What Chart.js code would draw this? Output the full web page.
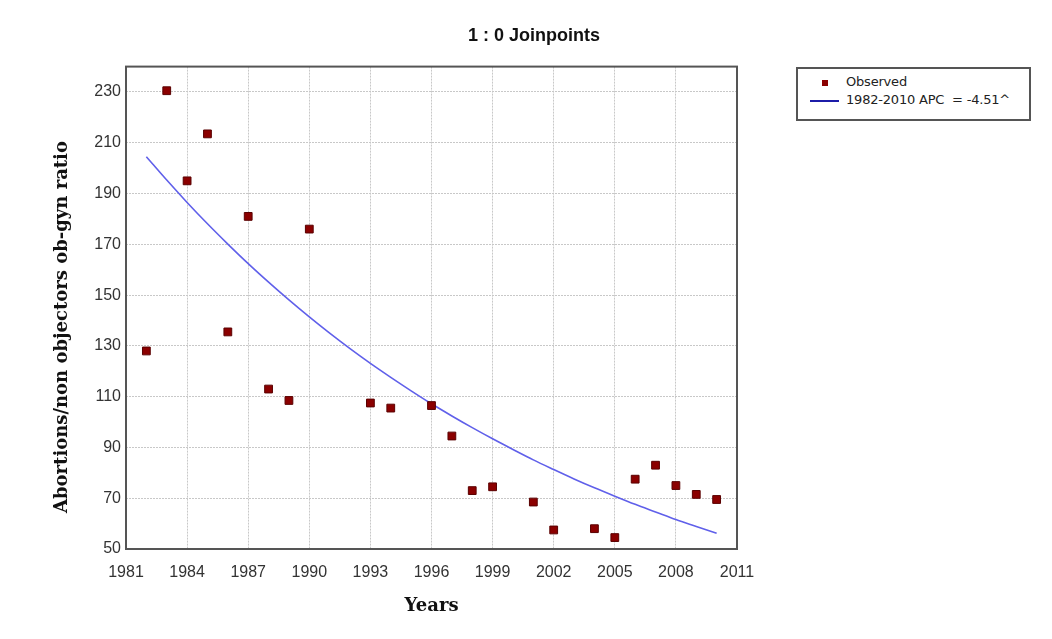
<!DOCTYPE html>
<html>
<head>
<meta charset="utf-8">
<script src="https://cdn.jsdelivr.net/npm/chart.js@4"></script>
<style>
  body { margin: 0; background: #fff; }
  #wrap { position: relative; width: 1052px; height: 639px; }
  #legend {
    position: absolute; left: 796px; top: 67px; width: 231px; height: 50px;
    border: 2px solid #555; background: #fff;
    font: 13px "DejaVu Sans", sans-serif; color: #222;
  }
  #legend .row { position: absolute; left: 48px; white-space: pre; letter-spacing: -0.2px; }
  #legend .mark { position: absolute; left: 24px; top: 11px; width: 6px; height: 6px; background: #8b0000; }
  #legend .line { position: absolute; left: 12px; top: 31px; width: 29px; height: 2px; background: #1c1ca8; }
</style>
</head>
<body>
<div id="wrap">
  <canvas id="chart" width="1052" height="639"></canvas>
  <div id="legend">
    <div class="mark"></div>
    <div class="row" style="top:5px">Observed</div>
    <div class="line"></div>
    <div class="row" style="top:23px">1982-2010 APC  = -4.51^</div>
  </div>
</div>
<script>
// ─── Data ───────────────────────────────────────────────────────────────────
const obsYears  = [1982, 1983, 1984, 1985, 1986, 1987, 1988, 1989, 1990, 1993, 1994, 1996,
                   1997, 1998, 1999, 2001, 2002, 2004, 2005, 2006, 2007, 2008, 2009, 2010];
const obsValues = [128, 230.5, 195, 213.5, 135.5, 181, 113, 108.5, 176, 107.5, 105.5, 106.5,
                   94.5, 73, 74.5, 68.5, 57.5, 58, 54.5, 77.5, 83, 75, 71.5, 69.5];

// fitted (modelled) line, one reading per year
const fitYears  = [1982, 1983, 1984, 1985, 1986, 1987, 1988, 1989, 1990, 1991, 1992, 1993, 1994, 1995,
                   1996, 1997, 1998, 1999, 2000, 2001, 2002, 2003, 2004, 2005, 2006, 2007, 2008, 2009, 2010];
const fitValues = [204.5, 195.3, 186.5, 178.1, 170.1, 162.4, 155.1, 148.1, 141.4, 135.0, 128.9, 123.1, 117.6, 112.3,
                   107.2, 102.4, 97.8, 93.4, 89.2, 85.1, 81.3, 77.6, 74.1, 70.8, 67.6, 64.6, 61.6, 58.9, 56.2];

const xTicks = [1981, 1984, 1987, 1990, 1993, 1996, 1999, 2002, 2005, 2008, 2011];
const yTicks = [50, 70, 90, 110, 130, 150, 170, 190, 210, 230];

const titleText = "1 : 0 Joinpoints";
const xTitle = "Years";
const yTitle = "Abortions/non objectors ob-gyn ratio";

const tickFont = { family: "'Liberation Sans', Arial, sans-serif", size: 16 };
const axisTitleFont = { family: "'DejaVu Serif', serif", size: 18, weight: "bold" };
const gridOpts = { color: "#c8c8c8", lineWidth: 1, drawTicks: false };
const borderOpts = { display: false, dash: [2, 1] };

// frame around the plot area + the vertical axis title (sits a bit below centre)
const frame = {
  id: "frame",
  afterDatasetsDraw(chart) {
    const { ctx, chartArea: a } = chart;
    ctx.save();
    ctx.strokeStyle = "#555";
    ctx.lineWidth = 2;
    ctx.strokeRect(a.left, a.top, a.right - a.left, a.bottom - a.top);
    ctx.translate(62, 327);
    ctx.rotate(-Math.PI / 2);
    ctx.font = `bold ${axisTitleFont.size}px ${axisTitleFont.family}`;
    ctx.fillStyle = "#111";
    ctx.textAlign = "center";
    ctx.textBaseline = "middle";
    ctx.fillText(yTitle, 0, 0);
    ctx.restore();
  },
};

new Chart(document.getElementById("chart"), {
  type: "scatter",
  data: {
    datasets: [
      {
        label: "1982-2010 APC  = -4.51^",
        type: "line",
        data: fitYears.map((x, i) => ({ x, y: fitValues[i] })),
        borderColor: "#6060ea",
        borderWidth: 1.6,
        pointRadius: 0,
        cubicInterpolationMode: "monotone",
        fill: false,
        order: 2,
      },
      {
        label: "Observed",
        data: obsYears.map((x, i) => ({ x, y: obsValues[i] })),
        pointStyle: "rect",
        pointRadius: 5.5,
        backgroundColor: "#8b0000",
        borderColor: "#5a0000",
        borderWidth: 1,
        showLine: false,
        order: 1,
      },
    ],
  },
  options: {
    responsive: false,
    animation: false,
    layout: { padding: { left: 16, right: 0, top: 0, bottom: 0 } },
    plugins: {
      legend: { display: false },
      tooltip: { enabled: false },
      title: {
        display: true,
        text: titleText,
        color: "#111",
        font: { family: "'Liberation Sans', Arial, sans-serif", size: 18, weight: "bold" },
        padding: { top: 25, bottom: 20 },
      },
    },
    scales: {
      x: {
        type: "linear",
        min: 1981,
        max: 2011,
        afterBuildTicks: (s) => { s.ticks = xTicks.map(v => ({ value: v })); },
        afterFit: (s) => { s.height = 90; },
        ticks: { color: "#333", font: tickFont, padding: 14, maxRotation: 0, callback: v => String(v) },
        grid: gridOpts,
        border: borderOpts,
        title: { display: true, text: xTitle, color: "#111", font: axisTitleFont, padding: { top: 0, bottom: 22 } },
      },
      y: {
        min: 50,
        max: 240,
        afterBuildTicks: (s) => { s.ticks = yTicks.map(v => ({ value: v })); },
        afterFit: (s) => { s.width = 110; },
        ticks: { color: "#333", font: tickFont, padding: 5 },
        grid: gridOpts,
        border: borderOpts,
        title: { display: false },
      },
      // empty right-hand axis keeps room for the legend box
      yRight: {
        position: "right",
        min: 50,
        max: 240,
        afterFit: (s) => { s.width = 315; },
        ticks: { display: false },
        grid: { drawOnChartArea: false, drawTicks: false },
        border: { display: false },
      },
    },
  },
  plugins: [frame],
});
</script>
</body>
</html>
